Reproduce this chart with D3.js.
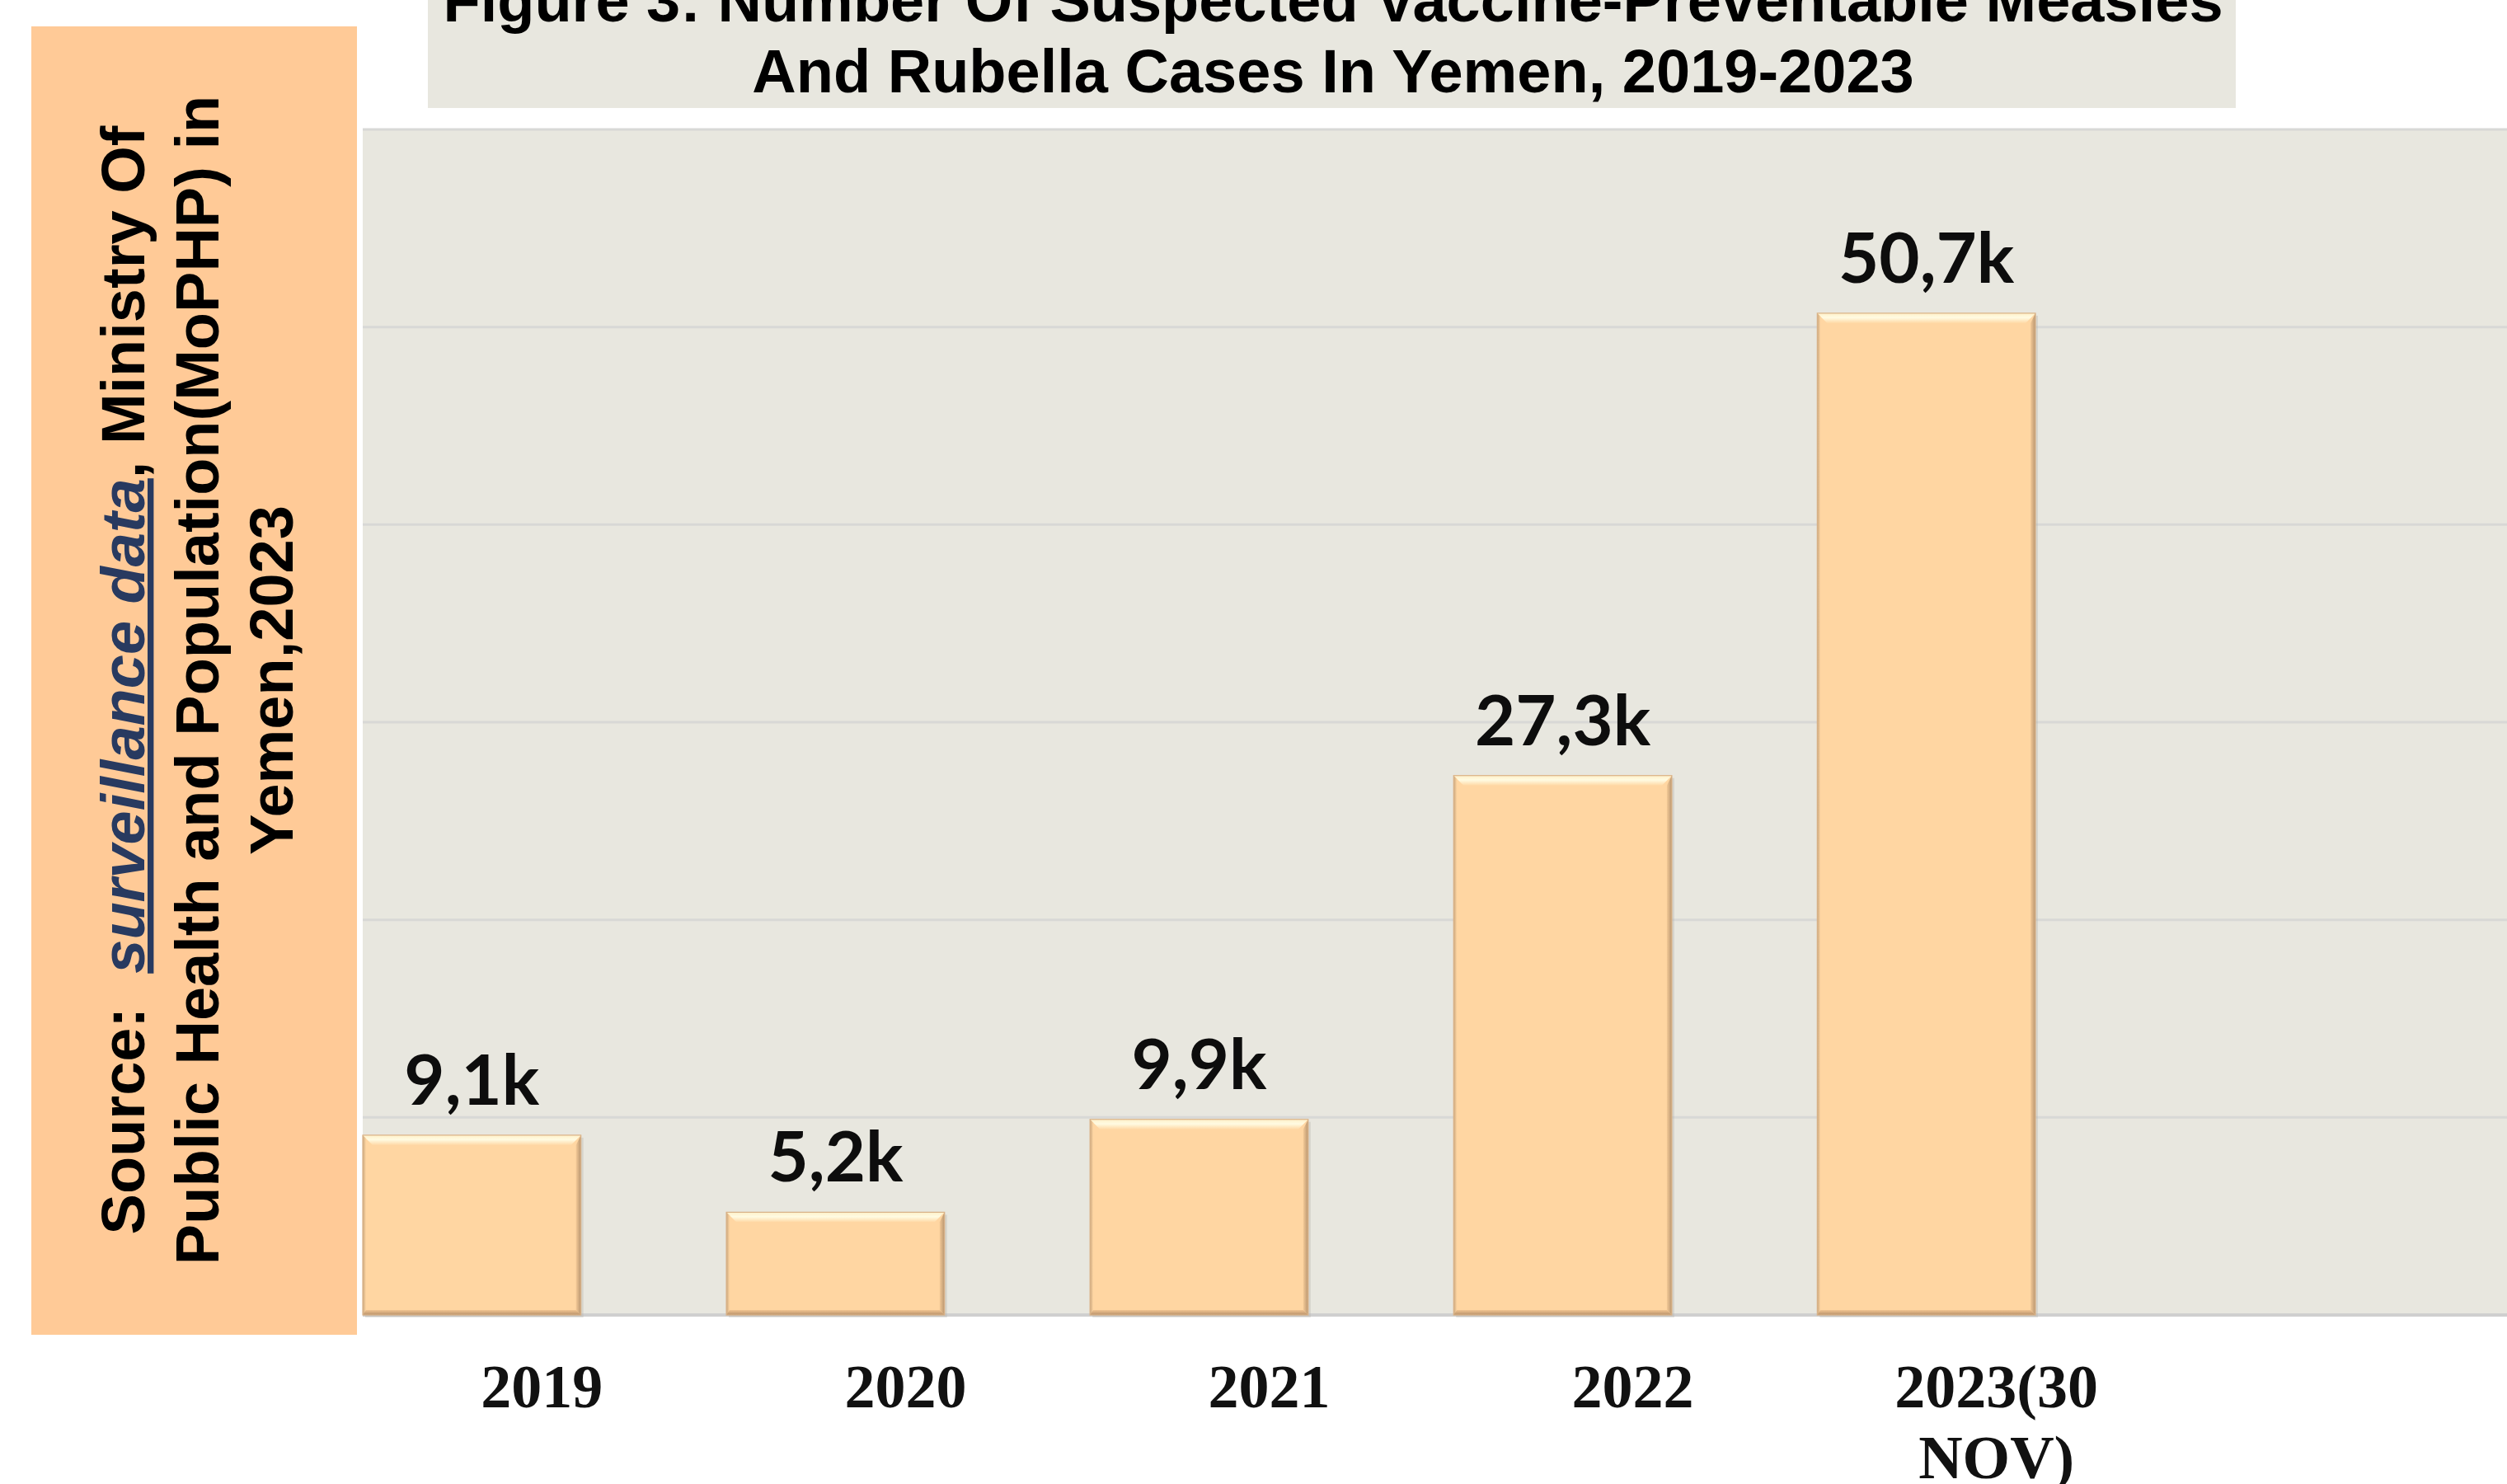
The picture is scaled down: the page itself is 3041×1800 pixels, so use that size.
<!DOCTYPE html>
<html>
<head>
<meta charset="utf-8">
<script src="https://cdn.jsdelivr.net/npm/d3@7"></script>
<style>
  html, body { margin: 0; padding: 0; background: #ffffff; }
  svg { display: block; }
</style>
</head>
<body>
<svg id="chart" width="3041" height="1800"></svg>
<script>
// ---- data ----
const categories = ["2019", "2020", "2021", "2022", "2023(30 NOV)"];
const categoryLines = [["2019"], ["2020"], ["2021"], ["2022"], ["2023(30", "NOV)"]];
const values = [9100, 5200, 9900, 27300, 50700];
const valueLabels = ["9,1k", "5,2k", "9,9k", "27,3k", "50,7k"];
const yTicks = [0, 10000, 20000, 30000, 40000, 50000, 60000];
const titleLines = ["Figure 3: Number Of Suspected Vaccine-Preventable Measles",
                    "And Rubella Cases In Yemen, 2019-2023"];
const sourceLine1 = ["Source: ", "surveillance data", ", Ministry Of"];
const sourceLine2 = "Public Health and Population(MoPHP) in";
const sourceLine3 = "Yemen,2023";

// ---- layout ----
const svg = d3.select("#chart");
const W = 3041, H = 1800;
const plot = { left: 440, right: 3041, top: 157, bottom: 1595 };

const x = d3.scaleBand()
  .domain(categories)
  .range([440, 2469])
  .paddingInner(0.4)
  .paddingOuter(0);

const y = d3.scaleLinear()
  .domain([0, 60000])
  .range([plot.bottom, plot.top]);

const defs = svg.append("defs");
const gTop = defs.append("linearGradient").attr("id", "bevTop")
  .attr("x1", 0).attr("y1", 0).attr("x2", 0).attr("y2", 1);
gTop.append("stop").attr("offset", "0").attr("stop-color", "#fff0c8");
gTop.append("stop").attr("offset", "0.45").attr("stop-color", "#fffbe2");
gTop.append("stop").attr("offset", "1").attr("stop-color", "#ffd9a6");
const gRight = defs.append("linearGradient").attr("id", "bevRight")
  .attr("x1", 0).attr("y1", 0).attr("x2", 1).attr("y2", 0);
gRight.append("stop").attr("offset", "0").attr("stop-color", "#f3c996");
gRight.append("stop").attr("offset", "1").attr("stop-color", "#b99670");
const gBottom = defs.append("linearGradient").attr("id", "bevBottom")
  .attr("x1", 0).attr("y1", 0).attr("x2", 0).attr("y2", 1);
gBottom.append("stop").attr("offset", "0").attr("stop-color", "#f0c390");
gBottom.append("stop").attr("offset", "1").attr("stop-color", "#b8916a");
const gLeft = defs.append("linearGradient").attr("id", "bevLeft")
  .attr("x1", 0).attr("y1", 0).attr("x2", 1).attr("y2", 0);
gLeft.append("stop").attr("offset", "0").attr("stop-color", "#c9a57c");
gLeft.append("stop").attr("offset", "1").attr("stop-color", "#ffd7a3");

// ---- title box ----
svg.append("rect")
  .attr("x", 519).attr("y", -60).attr("width", 2712 - 519).attr("height", 131 + 60)
  .attr("fill", "#e8e7df");
svg.append("g").selectAll("text").data(titleLines).join("text")
  .attr("x", 1617)
  .attr("y", (d, i) => 26 + i * 86)
  .attr("text-anchor", "middle")
  .attr("font-family", "'Liberation Sans', Arial, sans-serif")
  .attr("font-weight", "bold")
  .attr("font-size", 74)
  .attr("fill", "#000")
  .text(d => d);

// ---- plot background ----
svg.append("rect")
  .attr("x", plot.left).attr("y", plot.top)
  .attr("width", plot.right - plot.left).attr("height", plot.bottom - plot.top)
  .attr("fill", "#e8e7df");

// gridlines
svg.append("g").selectAll("line").data(yTicks).join("line")
  .attr("x1", plot.left).attr("x2", plot.right)
  .attr("y1", d => y(d)).attr("y2", d => y(d))
  .attr("stroke", d => d === 0 ? "#cfcfcf" : "#d8d8d6")
  .attr("stroke-width", d => d === 0 ? 4 : 3);

// ---- bars ----
const bars = svg.append("g").selectAll("g").data(values).join("g");
const bw = x.bandwidth();
const bev = 12, sb = 4;
bars.each(function (v, i) {
  const g = d3.select(this);
  const x0 = x(categories[i]), x1 = x0 + bw;
  const y0 = y(v), y1 = y(0);
  // shadow
  g.append("rect").attr("x", x0 + 3).attr("y", y0 + 3).attr("width", bw).attr("height", y1 - y0)
    .attr("fill", "#b5b2a8").attr("opacity", 0.35);
  g.append("rect").attr("x", x0).attr("y", y0).attr("width", bw).attr("height", y1 - y0)
    .attr("fill", "#ffd6a2");
  // top bevel
  g.append("polygon")
    .attr("points", [[x0, y0], [x1, y0], [x1 - bev, y0 + bev], [x0 + bev, y0 + bev]].join(" "))
    .attr("fill", "url(#bevTop)");
  // left bevel
  g.append("polygon")
    .attr("points", [[x0, y0], [x0 + sb, y0 + sb], [x0 + sb, y1 - sb], [x0, y1]].join(" "))
    .attr("fill", "url(#bevLeft)");
  // right bevel
  g.append("polygon")
    .attr("points", [[x1, y0], [x1, y1], [x1 - sb - 2, y1 - sb - 2], [x1 - sb - 2, y0 + bev]].join(" "))
    .attr("fill", "url(#bevRight)");
  // bottom bevel
  g.append("polygon")
    .attr("points", [[x0, y1], [x1, y1], [x1 - sb - 2, y1 - sb - 2], [x0 + sb, y1 - sb - 2]].join(" "))
    .attr("fill", "url(#bevBottom)");
  g.append("rect").attr("x", x0).attr("y", y0).attr("width", bw).attr("height", y1 - y0)
    .attr("fill", "none").attr("stroke", "#d9b287").attr("stroke-width", 1.2);
});

// value labels
svg.append("g").selectAll("text").data(values).join("text")
  .attr("x", (d, i) => x(categories[i]) + bw / 2)
  .attr("y", d => y(d) - 37)
  .attr("text-anchor", "middle")
  .attr("font-family", "Lato, 'Open Sans', sans-serif")
  .attr("font-weight", "bold")
  .attr("font-size", 85)
  .attr("fill", "#0d0d0d")
  .text((d, i) => valueLabels[i]);

// category labels
const catG = svg.append("g").selectAll("text").data(categories).join("text")
  .attr("text-anchor", "middle")
  .attr("font-family", "'Liberation Serif', 'Times New Roman', serif")
  .attr("font-weight", "bold")
  .attr("font-size", 74)
  .attr("fill", "#111");
catG.each(function (c, i) {
  const t = d3.select(this);
  categoryLines[i].forEach((ln, j) => {
    t.append("tspan")
      .attr("x", x(c) + bw / 2 + 85)
      .attr("y", 1707 + j * 86)
      .text(ln);
  });
});

// ---- source box ----
svg.append("rect")
  .attr("x", 38).attr("y", 32).attr("width", 395).attr("height", 1587)
  .attr("fill", "#ffca97");
const srcFont = "'Liberation Sans', Arial, sans-serif";
const cy = 825;
const t1 = svg.append("text")
  .attr("transform", `translate(175,${cy}) rotate(-90)`)
  .attr("text-anchor", "middle")
  .attr("font-family", srcFont).attr("font-weight", "bold").attr("font-size", 74)
  .attr("fill", "#000")
  .attr("xml:space", "preserve");
t1.append("tspan").text(sourceLine1[0] + " ");
t1.append("tspan").text(sourceLine1[1])
  .attr("font-style", "italic").attr("fill", "#283a60")
  .style("text-decoration", "underline")
  .style("text-decoration-thickness", "8px");
t1.append("tspan").text(sourceLine1[2]);
svg.append("text")
  .attr("transform", `translate(265,${cy}) rotate(-90)`)
  .attr("text-anchor", "middle")
  .attr("font-family", srcFont).attr("font-weight", "bold").attr("font-size", 74)
  .attr("fill", "#000")
  .text(sourceLine2);
svg.append("text")
  .attr("transform", `translate(355,${cy}) rotate(-90)`)
  .attr("text-anchor", "middle")
  .attr("font-family", srcFont).attr("font-weight", "bold").attr("font-size", 74)
  .attr("fill", "#000")
  .text(sourceLine3);
</script>
</body>
</html>
